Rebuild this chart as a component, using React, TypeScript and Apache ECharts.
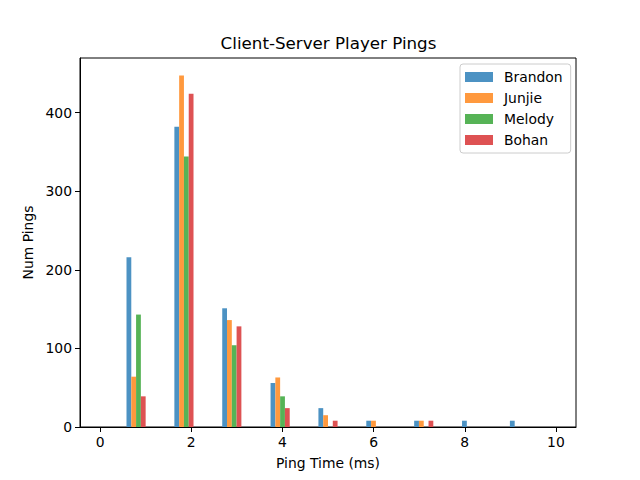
import React, { useEffect, useRef } from "react";
import * as echarts from "echarts";

const groupStarts = [0.58, 1.63, 2.68, 3.74, 4.79, 5.84, 6.89, 7.94, 8.99];
const seriesNames = ["Brandon", "Junjie", "Melody", "Bohan"];
const brandon = [216, 382, 151, 56, 24, 8, 8, 8, 8];
const junjie = [64, 447, 136, 63, 15, 8, 8, 0, 0];
const melody = [143, 344, 104, 39, 0, 0, 0, 0, 0];
const bohan = [39, 424, 128, 24, 8, 0, 8, 0, 0];
const seriesValues = [brandon, junjie, melody, bohan];
const colors = ["#4c92c3", "#ff993e", "#56b356", "#de5253"];
const xTicks = [0, 2, 4, 6, 8, 10];
const barWidth = 0.105;

export default function App() {
  const ref = useRef<HTMLDivElement>(null);
  useEffect(() => {
    document.body.style.margin = "0";
    if (!ref.current) return;
    const chart = echarts.init(ref.current, null, { renderer: "svg" });
    const font = "DejaVu Sans";
    const series = seriesNames.map((name, si) => ({
      type: "custom",
      name,
      clip: true,
      itemStyle: { color: colors[si] },
      encode: { x: 0, y: 1 },
      data: groupStarts.map((g, i) => [g, seriesValues[si][i]]),
      renderItem: (params: any, api: any) => {
        const x0 = api.value(0) + si * barWidth;
        const v = api.value(1);
        if (!v) return null;
        const p0 = api.coord([x0, v]);
        const p1 = api.coord([x0 + barWidth, 0]);
        return {
          type: "rect",
          shape: { x: p0[0], y: p0[1], width: p1[0] - p0[0], height: p1[1] - p0[1] },
          style: { fill: colors[si] },
        };
      },
    }));
    chart.setOption({
      animation: false,
      backgroundColor: "#ffffff",
      textStyle: { fontFamily: font },
      grid: {
        left: 80,
        right: 64,
        top: 58,
        bottom: 53,
        show: true,
        borderColor: "#000",
        borderWidth: 1,
        backgroundColor: "transparent",
      },
      graphic: [
        {
          type: "text",
          x: 328.5,
          y: 43,
          style: {
            text: "Client-Server Player Pings",
            fontFamily: font,
            fontSize: 16.7,
            fill: "#000",
            textAlign: "center",
            textVerticalAlign: "middle",
          },
        },
      ],
      legend: {
        orient: "vertical",
        left: 460,
        top: 64,
        itemWidth: 28,
        itemHeight: 10,
        itemGap: 7,
        padding: [6, 8, 6, 5],
        borderColor: "#cccccc",
        borderWidth: 1,
        borderRadius: 3,
        icon: "rect",
        data: seriesNames.map((n, i) => ({ name: n, itemStyle: { color: colors[i] } })),
        textStyle: { fontFamily: font, fontSize: 13.9, color: "#000", padding: [0, 0, 0, 6] },
      },
      xAxis: {
        type: "value",
        min: -0.44,
        max: 10.44,
        name: "Ping Time (ms)",
        nameLocation: "middle",
        nameGap: 29,
        nameTextStyle: { fontFamily: font, fontSize: 13.9, color: "#000" },
        splitLine: { show: false },
        axisLine: { show: true, onZero: false, lineStyle: { color: "#000" } },
        axisTick: { show: true, length: 5, customValues: xTicks, lineStyle: { color: "#000" } },
        axisLabel: {
          customValues: xTicks,
          fontFamily: font,
          fontSize: 13.9,
          color: "#000",
          margin: 8,
        },
      },
      yAxis: {
        type: "value",
        min: 0,
        max: 469.35,
        interval: 100,
        name: "Num Pings",
        nameLocation: "middle",
        nameGap: 45,
        nameTextStyle: { fontFamily: font, fontSize: 13.9, color: "#000" },
        splitLine: { show: false },
        axisLine: { show: true, onZero: false, lineStyle: { color: "#000" } },
        axisTick: { show: true, length: 5, lineStyle: { color: "#000" } },
        axisLabel: {
          fontFamily: font,
          fontSize: 13.9,
          color: "#000",
          margin: 8,
          showMaxLabel: false,
        },
      },
      series,
    });
    return () => chart.dispose();
  }, []);
  return <div ref={ref} style={{ width: 640, height: 480 }} />;
}
